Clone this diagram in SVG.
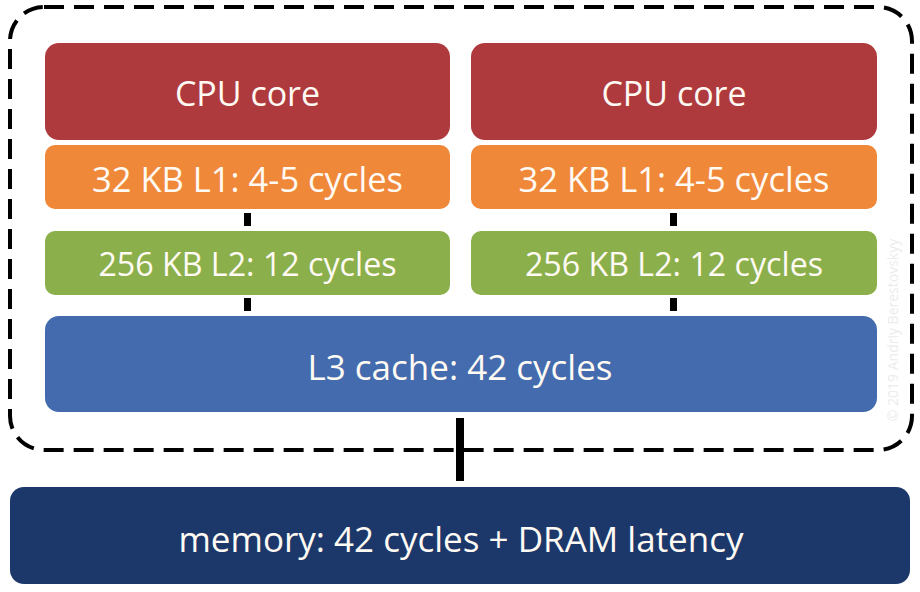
<svg xmlns="http://www.w3.org/2000/svg" width="920" height="592" viewBox="0 0 920 592">
<style>
.lbl{font-family:"Open Sans","Noto Sans",sans-serif;fill:#fffaf3;text-anchor:middle}
.big{font-size:34px}
.l1{font-size:34.5px}
.l2{font-size:32.2px}
.wide{font-size:35px}
.bar{fill:#000}
</style>
<rect width="920" height="592" fill="#fff"/>
<rect id="package" x="10" y="7" width="902" height="443" rx="34" ry="34" fill="none" stroke="#000" stroke-width="4" stroke-dasharray="20 10"/>
<text x="0" y="0" transform="translate(898,330) rotate(-90)" font-family="Open Sans, sans-serif" font-size="14" fill="#ececec" text-anchor="middle">© 2019 Andriy Berestovskyy</text>
<g id="connectors">
<rect class="bar" x="244" y="213" width="7" height="13"/>
<rect class="bar" x="670" y="213" width="7" height="13"/>
<rect class="bar" x="244" y="298" width="7" height="13"/>
<rect class="bar" x="670" y="298" width="7" height="13"/>
<rect class="bar" x="456" y="418" width="8" height="63"/>
</g>
<g id="cpu1"><rect x="45" y="43" width="405" height="97" rx="14" fill="#af3a3e"/><text class="lbl big" x="247.5" y="106">CPU core</text></g>
<g id="cpu2"><rect x="471" y="43" width="406" height="97" rx="14" fill="#af3a3e"/><text class="lbl big" x="674" y="106">CPU core</text></g>
<g id="l1a"><rect x="45" y="145" width="405" height="64" rx="10" fill="#f0883a"/><text class="lbl l1" x="247.5" y="192">32 KB L1: 4-5 cycles</text></g>
<g id="l1b"><rect x="471" y="145" width="406" height="64" rx="10" fill="#f0883a"/><text class="lbl l1" x="674" y="192">32 KB L1: 4-5 cycles</text></g>
<g id="l2a"><rect x="45" y="231" width="405" height="64" rx="10" fill="#8bb04b"/><text class="lbl l2" x="247.5" y="276">256 KB L2: 12 cycles</text></g>
<g id="l2b"><rect x="471" y="231" width="406" height="64" rx="10" fill="#8bb04b"/><text class="lbl l2" x="674" y="276">256 KB L2: 12 cycles</text></g>
<g id="l3"><rect x="45" y="316" width="832" height="96" rx="14" fill="#436bad"/><text class="lbl wide" x="460" y="380">L3 cache: 42 cycles</text></g>
<g id="memory"><rect x="10" y="487" width="900" height="97" rx="14" fill="#1c386b"/><text class="lbl wide" x="461" y="552">memory: 42 cycles + DRAM latency</text></g>
</svg>
